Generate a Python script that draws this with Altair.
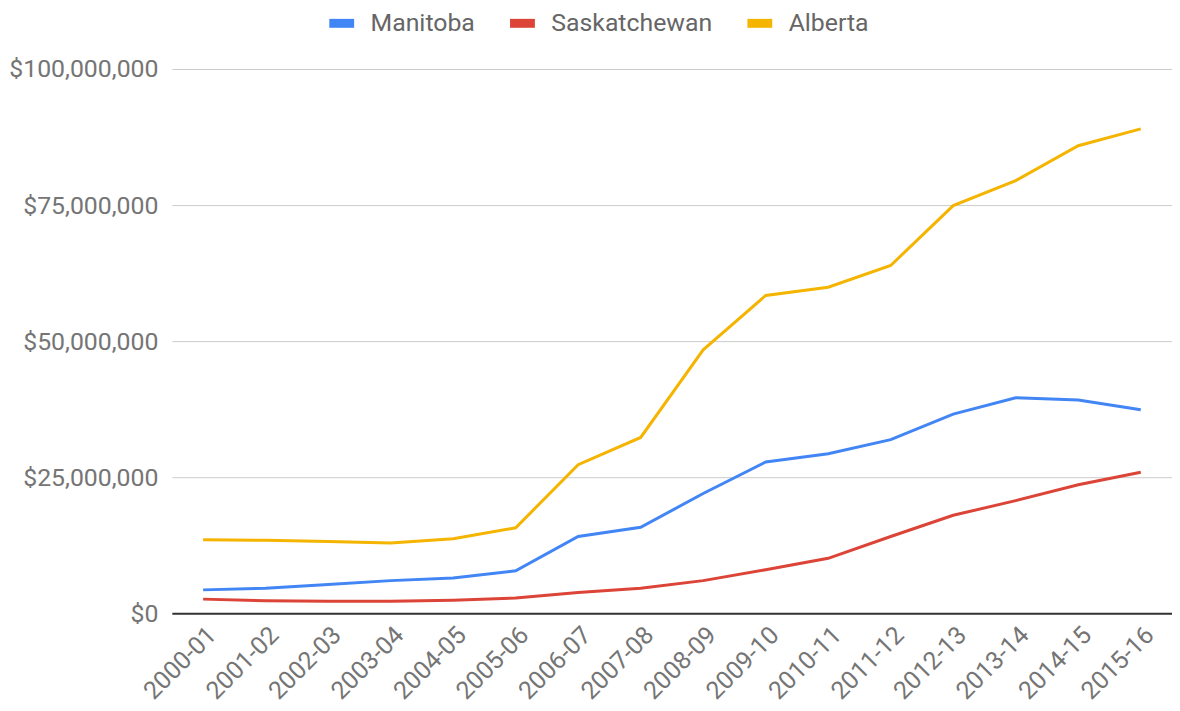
import altair as alt
import pandas as pd

years = ["2000-01", "2001-02", "2002-03", "2003-04", "2004-05", "2005-06", "2006-07",
         "2007-08", "2008-09", "2009-10", "2010-11", "2011-12", "2012-13", "2013-14",
         "2014-15", "2015-16"]
manitoba = [4.3, 4.6, 5.3, 6.0, 6.5, 7.8, 14.1, 15.8, 22.0, 27.8, 29.3, 31.9, 36.6, 39.6, 39.2, 37.4]
saskatchewan = [2.6, 2.3, 2.2, 2.2, 2.4, 2.8, 3.8, 4.6, 6.0, 8.0, 10.1, 14.1, 18.0, 20.7, 23.6, 25.9]
alberta = [13.5, 13.4, 13.2, 12.9, 13.7, 15.7, 27.3, 32.3, 48.4, 58.4, 59.9, 63.9, 74.9, 79.5, 85.9, 89.0]

series = ["Manitoba", "Saskatchewan", "Alberta"]
colors = ["#4285F4", "#DB4437", "#F4B400"]

rows = []
for name, vals in zip(series, [manitoba, saskatchewan, alberta]):
    for y, v in zip(years, vals):
        rows.append({"year": y, "province": name, "value": v * 1_000_000})
df = pd.DataFrame(rows)

chart = alt.Chart(df).mark_line(strokeWidth=3).encode(
    x=alt.X("year:O", sort=years, title=None,
            axis=alt.Axis(labelAngle=315, labelFontSize=25, labelColor="#757575",
                          labelFont="Roboto", ticks=False, domainColor="#333333",
                          domainWidth=2, labelPadding=9, labelLimit=300)),
    y=alt.Y("value:Q", title=None, scale=alt.Scale(domain=[0, 100_000_000], nice=False),
            axis=alt.Axis(values=[0, 25_000_000, 50_000_000, 75_000_000, 100_000_000],
                          format="$,.0f", labelFontSize=25, labelColor="#757575",
                          labelFont="Roboto", ticks=False, domain=False,
                          gridColor="#cccccc", labelPadding=14, labelLimit=300)),
    color=alt.Color("province:N", sort=series,
                    scale=alt.Scale(domain=series, range=colors),
                    legend=alt.Legend(title=None, orient="none", direction="horizontal",
                                      legendX=154, legendY=-63,
                                      labelFontSize=25, labelColor="#666666",
                                      labelFont="Roboto", symbolType="stroke",
                                      symbolSize=625, symbolStrokeWidth=9,
                                      labelOffset=12, columnPadding=16, labelLimit=400)),
).properties(
    width=1007, height=548,
    padding={"left": 165, "top": 59, "right": 0, "bottom": 100},
    autosize=alt.AutoSizeParams(type="none"),
).configure_view(stroke=None)

chart.save("out.html", embed_options={"renderer": "svg", "actions": False})
